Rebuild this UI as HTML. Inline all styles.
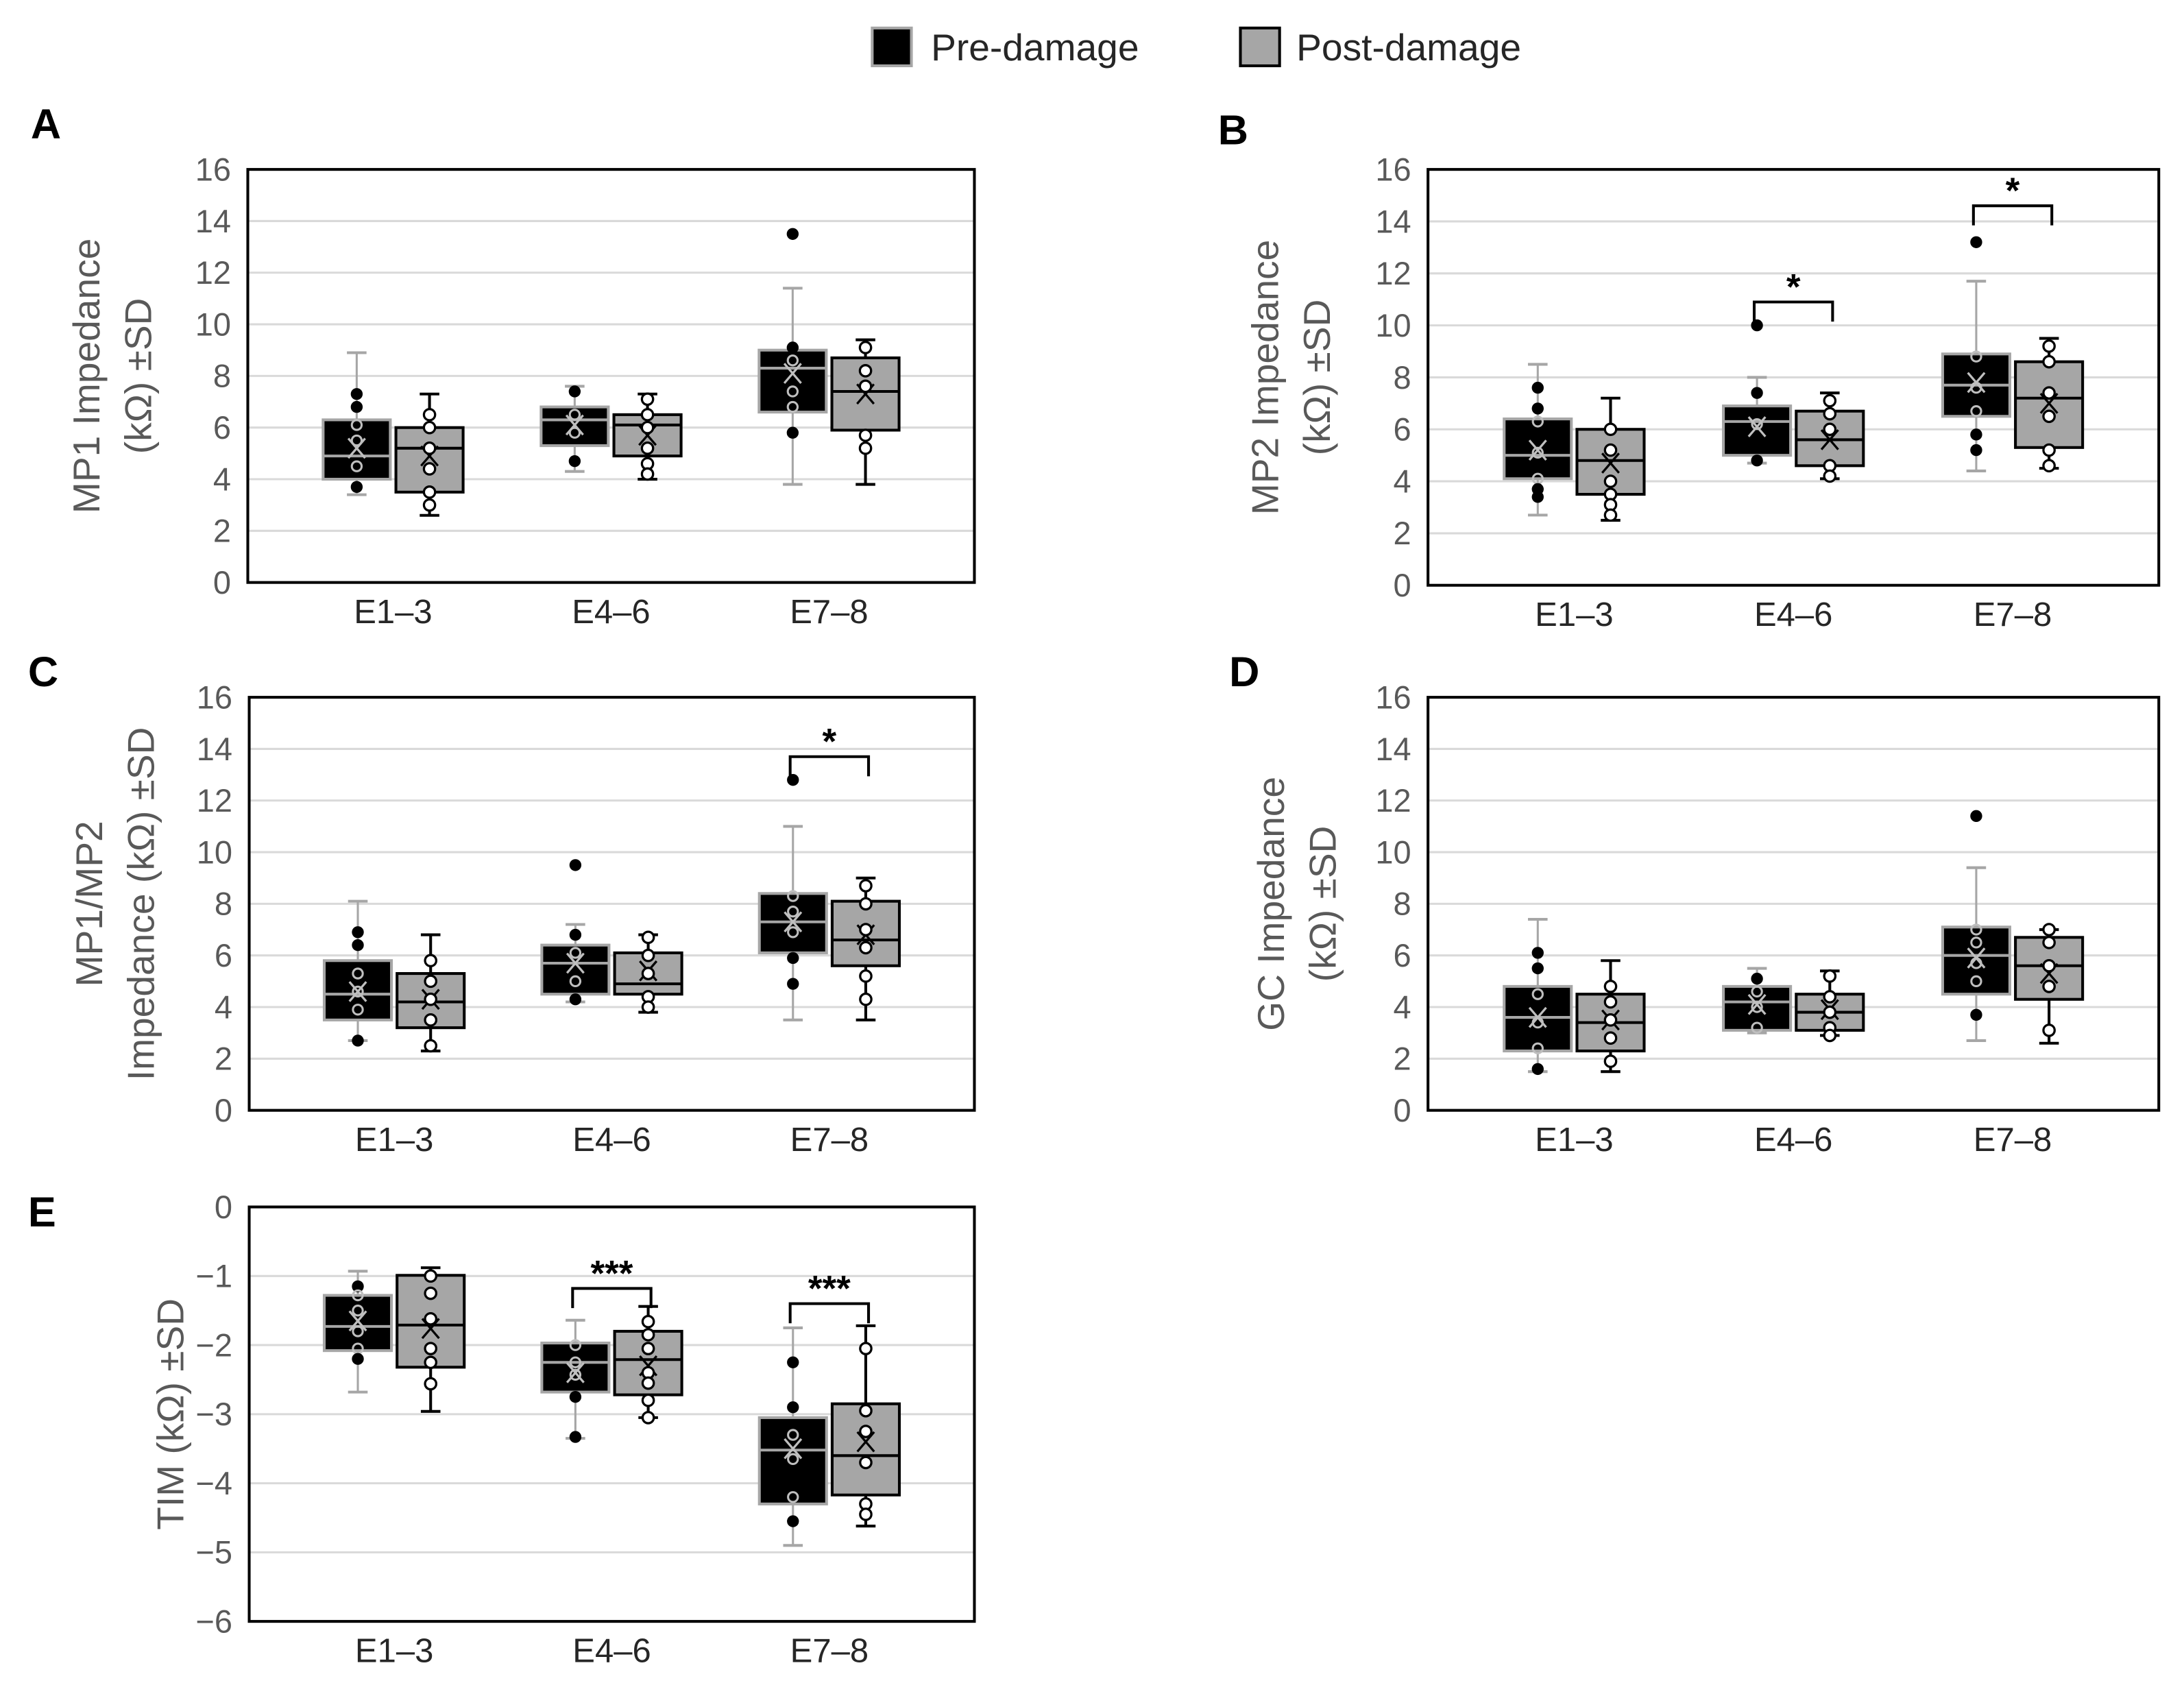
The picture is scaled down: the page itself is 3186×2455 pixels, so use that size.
<!DOCTYPE html>
<html><head><meta charset="utf-8">
<style>
html,body{margin:0;padding:0;background:#fff;}
svg{display:block;}
text{font-family:"Liberation Sans",sans-serif;}
</style></head>
<body>
<svg id="fig" width="3186" height="2455" viewBox="0 0 1560 1202" preserveAspectRatio="none" xmlns="http://www.w3.org/2000/svg">
  <g>
    <rect x="623" y="20" width="28" height="27" fill="#000" stroke="#a6a6a6" stroke-width="2"/>
    <text x="665" y="43" font-size="27" fill="#262626">Pre-damage</text>
    <rect x="886" y="20" width="28" height="27" fill="#a6a6a6" stroke="#000" stroke-width="2"/>
    <text x="926" y="43" font-size="27" fill="#262626">Post-damage</text>
  </g>
</svg>
<script>
const categories = ["E1–3","E4–6","E7–8"];
// panel A
const aPre  = [[3.4,4.0,4.9,6.3,8.9,5.2],[4.3,5.3,6.3,6.8,7.6,6.1],[3.8,6.6,8.3,9.0,11.4,8.1]];
const aPost = [[2.6,3.5,5.2,6.0,7.3,4.9],[4.0,4.9,6.1,6.5,7.3,5.7],[3.8,5.9,7.4,8.7,9.4,7.3]];
const aPrePts  = [[7.3,6.8,6.1,5.5,4.5,3.7],[7.4,6.5,5.8,4.7],[13.5,9.1,8.6,7.4,6.8,5.8]];
const aPostPts = [[6.5,6.0,5.2,4.4,3.5,3.0],[7.1,6.5,6.0,5.2,4.6,4.2],[9.1,8.2,7.6,5.7,5.2]];
// panel B
const bPre  = [[2.7,4.1,5.0,6.4,8.5,5.2],[4.7,5.0,6.3,6.9,8.0,6.1],[4.4,6.5,7.7,8.9,11.7,7.8]];
const bPost = [[2.5,3.5,4.8,6.0,7.2,4.7],[4.1,4.6,5.6,6.7,7.4,5.6],[4.5,5.3,7.2,8.6,9.5,7.0]];
const bPrePts  = [[7.6,6.8,6.3,5.1,4.1,3.7,3.4],[10.0,7.4,6.2,4.8],[13.2,8.8,7.6,6.7,5.8,5.2]];
const bPostPts = [[6.0,5.2,4.0,3.5,3.1,2.7],[7.1,6.6,6.0,4.6,4.2],[9.2,8.6,7.4,6.5,5.2,4.6]];
// panel C
const cPre  = [[2.7,3.5,4.5,5.8,8.1,4.6],[4.2,4.5,5.7,6.4,7.2,5.7],[3.5,6.1,7.3,8.4,11.0,7.3]];
const cPost = [[2.3,3.2,4.2,5.3,6.8,4.3],[3.8,4.5,4.9,6.1,6.8,5.4],[3.5,5.6,6.6,8.1,9.0,6.8]];
const cPrePts  = [[6.9,6.4,5.3,4.6,3.9,2.7],[9.5,6.8,6.1,5.0,4.3],[12.8,8.3,7.7,6.9,5.9,4.9]];
const cPostPts = [[5.8,5.0,4.3,3.5,2.5],[6.7,6.0,5.3,4.4,4.0],[8.7,8.0,7.0,6.3,5.2,4.3]];
// panel D
const dPre  = [[1.5,2.3,3.6,4.8,7.4,3.6],[3.0,3.1,4.2,4.8,5.5,4.1],[2.7,4.5,6.0,7.1,9.4,5.9]];
const dPost = [[1.5,2.3,3.4,4.5,5.8,3.5],[2.9,3.1,3.8,4.5,5.4,3.9],[2.6,4.3,5.6,6.7,7.0,5.3]];
const dPrePts  = [[6.1,5.5,4.5,3.4,2.4,1.6],[5.1,4.6,4.0,3.2],[11.4,7.0,6.5,5.7,5.0,3.7]];
const dPostPts = [[4.8,4.2,3.5,2.8,1.9],[5.2,4.4,3.8,3.2,2.9],[7.0,6.5,5.6,4.8,3.1]];
// panel E
const ePre  = [[-2.68,-2.08,-1.73,-1.28,-0.93,-1.65],[-3.35,-2.68,-2.25,-1.97,-1.64,-2.4],[-4.9,-4.3,-3.52,-3.05,-1.75,-3.5]];
const ePost = [[-2.96,-2.32,-1.71,-0.99,-0.88,-1.76],[-3.05,-2.72,-2.21,-1.8,-1.44,-2.3],[-4.62,-4.17,-3.6,-2.85,-1.72,-3.4]];
const ePrePts  = [[-1.15,-1.28,-1.5,-1.8,-2.05,-2.2],[-2.0,-2.25,-2.43,-2.75,-3.33],[-2.25,-2.9,-3.3,-3.65,-4.2,-4.55]];
const ePostPts = [[-1.0,-1.25,-1.62,-2.05,-2.25,-2.56],[-1.66,-1.85,-2.05,-2.4,-2.55,-2.8,-3.05],[-2.05,-2.95,-3.25,-3.7,-4.3,-4.45]];
const posTicks = [0,2,4,6,8,10,12,14,16];
const negTicks = [0,-1,-2,-3,-4,-5,-6];
// significance: [category index, bracket y, label]
const bSig = [[1,10.9,"*"],[2,14.6,"*"]];
const cSig = [[2,13.7,"*"]];
const eSig = [[1,-1.18,"***"],[2,-1.4,"***"]];

const NS="http://www.w3.org/2000/svg";
const svg=document.getElementById('fig');
function mk(tag,attrs,parent){const e=document.createElementNS(NS,tag);for(const k in attrs)e.setAttribute(k,attrs[k]);(parent||svg).appendChild(e);return e;}

function panel(cfg){
  const g=mk('g',{});
  
  
  const {x0,x1,y0,y1,min,max}=cfg;
  const ys=v=>y1-(v-min)/(max-min)*(y1-y0);
  const w=x1-x0;
  const xc=i=>x0+w*(0.2+0.3*i);
  const lt=mk('text',{x:cfg.lx,y:cfg.ly,'font-size':30,'font-weight':'bold',fill:'#000'},g);
  lt.textContent=cfg.id;
  
  
  cfg.ticks.forEach(t=>{
    if(t!==min && t!==max){
      const gl=mk('line',{x1:x0,x2:x1,y1:ys(t),y2:ys(t),stroke:'#d9d9d9','stroke-width':1.5},g);
      
      
    }
    const tt=mk('text',{x:x0-12,y:ys(t)+8,'font-size':23,fill:'#595959','text-anchor':'end'},g);
    tt.textContent=t<0?'−'+(-t):String(t);
    
    
  });
  const fr=mk('rect',{x:x0,y:y0,width:w,height:y1-y0,fill:'none',stroke:'#000','stroke-width':2},g);
  
  
  categories.forEach((c,i)=>{
    const tl=mk('text',{x:xc(i),y:y1+29,'font-size':24,fill:'#262626','text-anchor':'middle'},g);
    tl.textContent=c;
    
    
  });
  const tg=mk('text',{'font-size':27,fill:'#595959','text-anchor':'middle',transform:`translate(${cfg.tx},${(y0+y1)/2}) rotate(-90)`},g);
  
  
  cfg.title.forEach((line,k)=>{const ts=mk('tspan',{x:0,dy:k===0?-(cfg.title.length-1)*18+9:37},tg);ts.textContent=line;});
  const bw=48;
  function box(stats,pts,cx,pre,name){
    const bg=mk('g',{},g);
    
    
    const edge=pre?'#a6a6a6':'#000';
    const fill=pre?'#000':'#a6a6a6';
    const [lo,q1,med,q3,hi,mean]=stats;
    mk('line',{x1:cx,x2:cx,y1:ys(hi),y2:ys(lo),stroke:edge,'stroke-width':pre?1.5:2},bg);
    mk('line',{x1:cx-7,x2:cx+7,y1:ys(hi),y2:ys(hi),stroke:edge,'stroke-width':2},bg);
    mk('line',{x1:cx-7,x2:cx+7,y1:ys(lo),y2:ys(lo),stroke:edge,'stroke-width':2},bg);
    mk('rect',{x:cx-bw/2,y:ys(q3),width:bw,height:ys(q1)-ys(q3),fill:fill,stroke:edge,'stroke-width':2},bg);
    mk('line',{x1:cx-bw/2,x2:cx+bw/2,y1:ys(med),y2:ys(med),stroke:edge,'stroke-width':2},bg);
    const m=ys(mean);
    mk('path',{d:`M${cx-6} ${m-7}L${cx+6} ${m+7}M${cx+6} ${m-7}L${cx-6} ${m+7}`,stroke:pre?'#bfbfbf':'#000','stroke-width':1.6,fill:'none'},bg);
    pts.forEach(p=>{
      const y=ys(p);
      const inside=(p>=q1&&p<=q3);
      if(pre) mk('circle',{cx:cx,cy:y,r:3.5,fill:inside?'none':'#000',stroke:inside?'#bfbfbf':'#000','stroke-width':1.5},bg);
      else mk('circle',{cx:cx,cy:y,r:4,fill:'#fff',stroke:'#000','stroke-width':1.6},bg);
    });
  }
  categories.forEach((c,i)=>{
    box(cfg.pre[i],cfg.prePts[i],xc(i)-26,true,'box-pre-'+(i+1));
    box(cfg.post[i],cfg.postPts[i],xc(i)+26,false,'box-post-'+(i+1));
  });
  (cfg.sig||[]).forEach(s=>{
    const sg=mk('g',{},g);
    
    
    const y=ys(s[1]);
    mk('path',{d:`M${xc(s[0])-28} ${y+14}V${y}H${xc(s[0])+28}V${y+14}`,stroke:'#000','stroke-width':2,fill:'none'},sg);
    const st=mk('text',{x:xc(s[0]),y:y-2,'font-size':26,'font-weight':'bold',fill:'#000','text-anchor':'middle'},sg);
    st.textContent=s[2];
  });
}
panel({id:'A',lx:22,ly:99,x0:177,x1:696,y0:121,y1:416,min:0,max:16,ticks:posTicks,tx:80,title:['MP1 Impedance','(kΩ) ±SD'],pre:aPre,post:aPost,prePts:aPrePts,postPts:aPostPts});
panel({id:'B',lx:870,ly:103,x0:1020,x1:1542,y0:121,y1:418,min:0,max:16,ticks:posTicks,tx:922,title:['MP2 Impedance','(kΩ) ±SD'],pre:bPre,post:bPost,prePts:bPrePts,postPts:bPostPts,sig:bSig});
panel({id:'C',lx:20,ly:490,x0:178,x1:696,y0:498,y1:793,min:0,max:16,ticks:posTicks,tx:82,title:['MP1/MP2','Impedance (kΩ) ±SD'],pre:cPre,post:cPost,prePts:cPrePts,postPts:cPostPts,sig:cSig});
panel({id:'D',lx:878,ly:490,x0:1020,x1:1542,y0:498,y1:793,min:0,max:16,ticks:posTicks,tx:926,title:['GC Impedance','(kΩ) ±SD'],pre:dPre,post:dPost,prePts:dPrePts,postPts:dPostPts});
panel({id:'E',lx:20,ly:876,x0:178,x1:696,y0:862,y1:1158,min:-6,max:0,ticks:negTicks,tx:122,title:['TIM (kΩ) ±SD'],pre:ePre,post:ePost,prePts:ePrePts,postPts:ePostPts,sig:eSig});
</script>
</body></html>
